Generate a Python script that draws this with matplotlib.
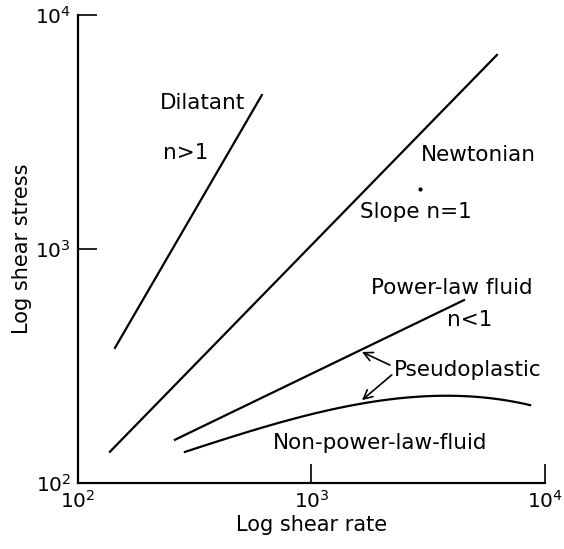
import numpy as np
from matplotlib import pyplot as plt

# curves (shear rate, shear stress)
dilatant_rate = [144, 613]
dilatant_stress = [378, 4550]

newtonian_rate = [137, 6224]
newtonian_stress = [136, 6747]

powerlaw_rate = [260, 4500]
powerlaw_stress = [153, 605]

nonpower_rate = [287, 733, 1663, 3800, 6410, 8630]
nonpower_stress = [136, 180, 222, 233, 229, 215]

dot_rate = [2917]
dot_stress = [1803]

fig = plt.figure(figsize=(5.64, 5.49), dpi=100)
ax = fig.add_axes([0.1383, 0.1202, 0.828, 0.8525])

lw = 1.6
ax.plot(dilatant_rate, dilatant_stress, color='black', lw=lw)
ax.plot(newtonian_rate, newtonian_stress, color='black', lw=lw)
ax.plot(powerlaw_rate, powerlaw_stress, color='black', lw=lw)

# smooth the non-power-law curve in log space through the read points
lx = np.log10(nonpower_rate)
ly = np.log10(nonpower_stress)
coef = np.polyfit(lx, ly, 3)
xs = np.linspace(lx[0], lx[-1], 100)
ax.plot(10 ** xs, 10 ** np.polyval(coef, xs), color='black', lw=lw)

ax.plot(dot_rate, dot_stress, 'o', color='black', ms=2)

ax.set_xscale('log')
ax.set_yscale('log')
ax.set_xlim(1e2, 1e4)
ax.set_ylim(1e2, 1e4)
ax.set_xticks([1e2, 1e3, 1e4])
ax.set_yticks([1e2, 1e3, 1e4])
ax.minorticks_off()
ax.tick_params(direction='in', length=14, width=1.2, labelsize=14.5, pad=5)

ax.spines['top'].set_visible(False)
ax.spines['right'].set_visible(False)
ax.spines['left'].set_linewidth(1.6)
ax.spines['bottom'].set_linewidth(1.6)

ax.set_xlabel('Log shear rate', fontsize=15, labelpad=2)
ax.set_ylabel('Log shear stress', fontsize=15, labelpad=2)

fs = 15.5
ax.text(0.266, 0.812, 'Dilatant', transform=ax.transAxes, fontsize=fs, ha='center', va='center')
ax.text(0.231, 0.705, 'n>1', transform=ax.transAxes, fontsize=fs, ha='center', va='center')
ax.text(0.857, 0.701, 'Newtonian', transform=ax.transAxes, fontsize=fs, ha='center', va='center')
ax.text(0.724, 0.579, 'Slope n=1', transform=ax.transAxes, fontsize=fs, ha='center', va='center')
ax.text(0.801, 0.417, 'Power-law fluid', transform=ax.transAxes, fontsize=fs, ha='center', va='center')
ax.text(0.839, 0.348, 'n<1', transform=ax.transAxes, fontsize=fs, ha='center', va='center')
ax.text(0.835, 0.241, 'Pseudoplastic', transform=ax.transAxes, fontsize=fs, ha='center', va='center')
ax.text(0.647, 0.085, 'Non-power-law-fluid', transform=ax.transAxes, fontsize=fs, ha='center', va='center')

arrow = dict(arrowstyle='->', color='black', lw=1.2, mutation_scale=16, shrinkA=0, shrinkB=0)
ax.annotate('', xy=(0.608, 0.280), xytext=(0.668, 0.252), xycoords='axes fraction', arrowprops=arrow)
ax.annotate('', xy=(0.608, 0.177), xytext=(0.672, 0.231), xycoords='axes fraction', arrowprops=arrow)

fig.savefig('out.png', dpi=100)
